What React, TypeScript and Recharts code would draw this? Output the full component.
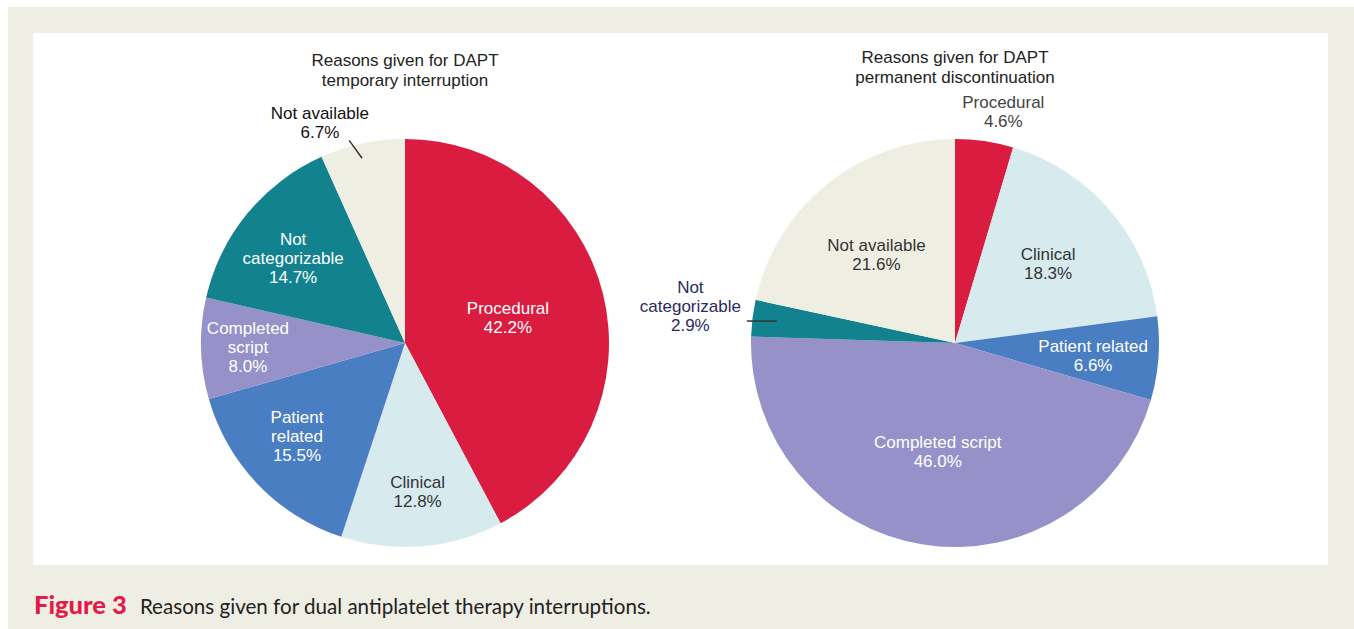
import React from "react";
import { PieChart, Pie, Cell } from "recharts";

// slice order, clockwise from 12 o'clock
const categories = [
  "Procedural",
  "Clinical",
  "Patient related",
  "Completed script",
  "Not categorizable",
  "Not available",
];

const temporaryValues = [42.2, 12.8, 15.5, 8.0, 14.7, 6.7];
const permanentValues = [4.6, 18.3, 6.6, 46.0, 2.9, 21.6];

// label text per slice ("\n" = line break)
const temporaryLabels = [
  "Procedural",
  "Clinical",
  "Patient\nrelated",
  "Completed\nscript",
  "Not\ncategorizable",
  "Not available",
];
const permanentLabels = [
  "Procedural",
  "Clinical",
  "Patient related",
  "Completed script",
  "Not\ncategorizable",
  "Not available",
];

const sliceColors = ["#d91c40", "#d7ebee", "#4a7ec2", "#9691c8", "#13828f", "#efeee3"];

type LabelStyle = {
  r: number; // fraction of outer radius
  shift?: number; // degrees added to midAngle
  color: string;
  // leader: start radius fraction, angle shift, direction (deg), length (px)
  leader?: { r: number; shift: number; dir: number; len: number };
};

const temporaryLabelStyle: LabelStyle[] = [
  { r: 0.52, color: "#ffffff" },
  { r: 0.73, color: "#333333" },
  { r: 0.7, shift: -3, color: "#ffffff" },
  { r: 0.77, color: "#ffffff" },
  { r: 0.69, shift: 2, color: "#ffffff" },
  { r: 1.16, shift: 9, color: "#111111", leader: { r: 0.93, shift: 1, dir: 126, len: 22 } },
];

const permanentLabelStyle: LabelStyle[] = [
  { r: 1.16, shift: -3.5, color: "#444444" },
  { r: 0.6, color: "#333333" },
  { r: 0.68, shift: -1, color: "#ffffff" },
  { r: 0.54, color: "#ffffff" },
  { r: 1.31, shift: -1, color: "#2b2a5e", leader: { r: 0.88, shift: 0, dir: 180, len: 30 } },
  { r: 0.58, shift: 2.7, color: "#333333" },
];

const RADIAN = Math.PI / 180;
const LINE_H = 19;
const FONT = "'Liberation Sans', Arial, sans-serif";

const makeLabel = (labels: string[], styles: LabelStyle[]) => (props: any) => {
  const { cx, cy, midAngle, outerRadius, index, value } = props;
  const st = styles[index];
  const ang = (midAngle + (st.shift ?? 0)) * RADIAN;
  const x = cx + outerRadius * st.r * Math.cos(ang);
  const y = cy - outerRadius * st.r * Math.sin(ang);
  const lines = [...labels[index].split("\n"), `${Number(value).toFixed(1)}%`];
  let leader = null;
  if (st.leader) {
    const ld = st.leader;
    const la = (midAngle + ld.shift) * RADIAN;
    const x1 = cx + outerRadius * ld.r * Math.cos(la);
    const y1 = cy - outerRadius * ld.r * Math.sin(la);
    leader = (
      <line
        x1={x1}
        y1={y1}
        x2={x1 + ld.len * Math.cos(ld.dir * RADIAN)}
        y2={y1 - ld.len * Math.sin(ld.dir * RADIAN)}
        stroke="#333"
        strokeWidth={1.5}
      />
    );
  }
  return (
    <g>
      {leader}
      <text
        x={x}
        y={y}
        fill={st.color}
        textAnchor="middle"
        dominantBaseline="central"
        fontSize={17}
        fontFamily={FONT}
      >
        {lines.map((ln, i) => (
          <tspan key={i} x={x} dy={i === 0 ? (-(lines.length - 1) / 2) * LINE_H : LINE_H}>
            {ln}
          </tspan>
        ))}
      </text>
    </g>
  );
};

const temporaryData = categories.map((name, i) => ({ name, value: temporaryValues[i] }));
const permanentData = categories.map((name, i) => ({ name, value: permanentValues[i] }));

const titleStyle: React.CSSProperties = {
  position: "absolute",
  width: 300,
  textAlign: "center",
  fontFamily: FONT,
  fontSize: 17,
  lineHeight: "20px",
  color: "#222",
};

export default function App() {
  return (
    <div
      style={{
        position: "fixed",
        left: 0,
        top: 0,
        width: 1354,
        height: 629,
        background: "#ffffff",
      }}
    >
      <div
        style={{
          position: "absolute",
          left: 8,
          top: 7,
          width: 1346,
          height: 622,
          background: "#efeee4",
        }}
      />
      <div
        style={{
          position: "absolute",
          left: 33,
          top: 33,
          width: 1295,
          height: 532,
          background: "#ffffff",
        }}
      >
        <PieChart width={1295} height={532} margin={{ top: 0, right: 0, bottom: 0, left: 0 }}>
          <Pie
            data={temporaryData}
            dataKey="value"
            nameKey="name"
            cx={372}
            cy={310}
            outerRadius={204}
            startAngle={90}
            endAngle={-270}
            stroke="none"
            labelLine={false}
            label={makeLabel(temporaryLabels, temporaryLabelStyle)}
            isAnimationActive={false}
          >
            {temporaryData.map((d, i) => (
              <Cell key={d.name} fill={sliceColors[i]} />
            ))}
          </Pie>
          <Pie
            data={permanentData}
            dataKey="value"
            nameKey="name"
            cx={922}
            cy={310}
            outerRadius={204}
            startAngle={90}
            endAngle={-270}
            stroke="none"
            labelLine={false}
            label={makeLabel(permanentLabels, permanentLabelStyle)}
            isAnimationActive={false}
          >
            {permanentData.map((d, i) => (
              <Cell key={d.name} fill={sliceColors[i]} />
            ))}
          </Pie>
        </PieChart>
        <div style={{ ...titleStyle, left: 222, top: 18 }}>
          Reasons given for DAPT
          <br />
          temporary interruption
        </div>
        <div style={{ ...titleStyle, left: 772, top: 15 }}>
          Reasons given for DAPT
          <br />
          permanent discontinuation
        </div>
      </div>
      <div
        style={{
          position: "absolute",
          left: 34,
          top: 589,
          fontFamily: "Lato, 'Open Sans', sans-serif",
          fontSize: 20.6,
          color: "#222",
          whiteSpace: "nowrap",
        }}
      >
        <span style={{ color: "#e01c4b", fontWeight: 900, fontSize: 25.5, marginRight: 13 }}>
          Figure 3
        </span>
        Reasons given for dual antiplatelet therapy interruptions.
      </div>
    </div>
  );
}
